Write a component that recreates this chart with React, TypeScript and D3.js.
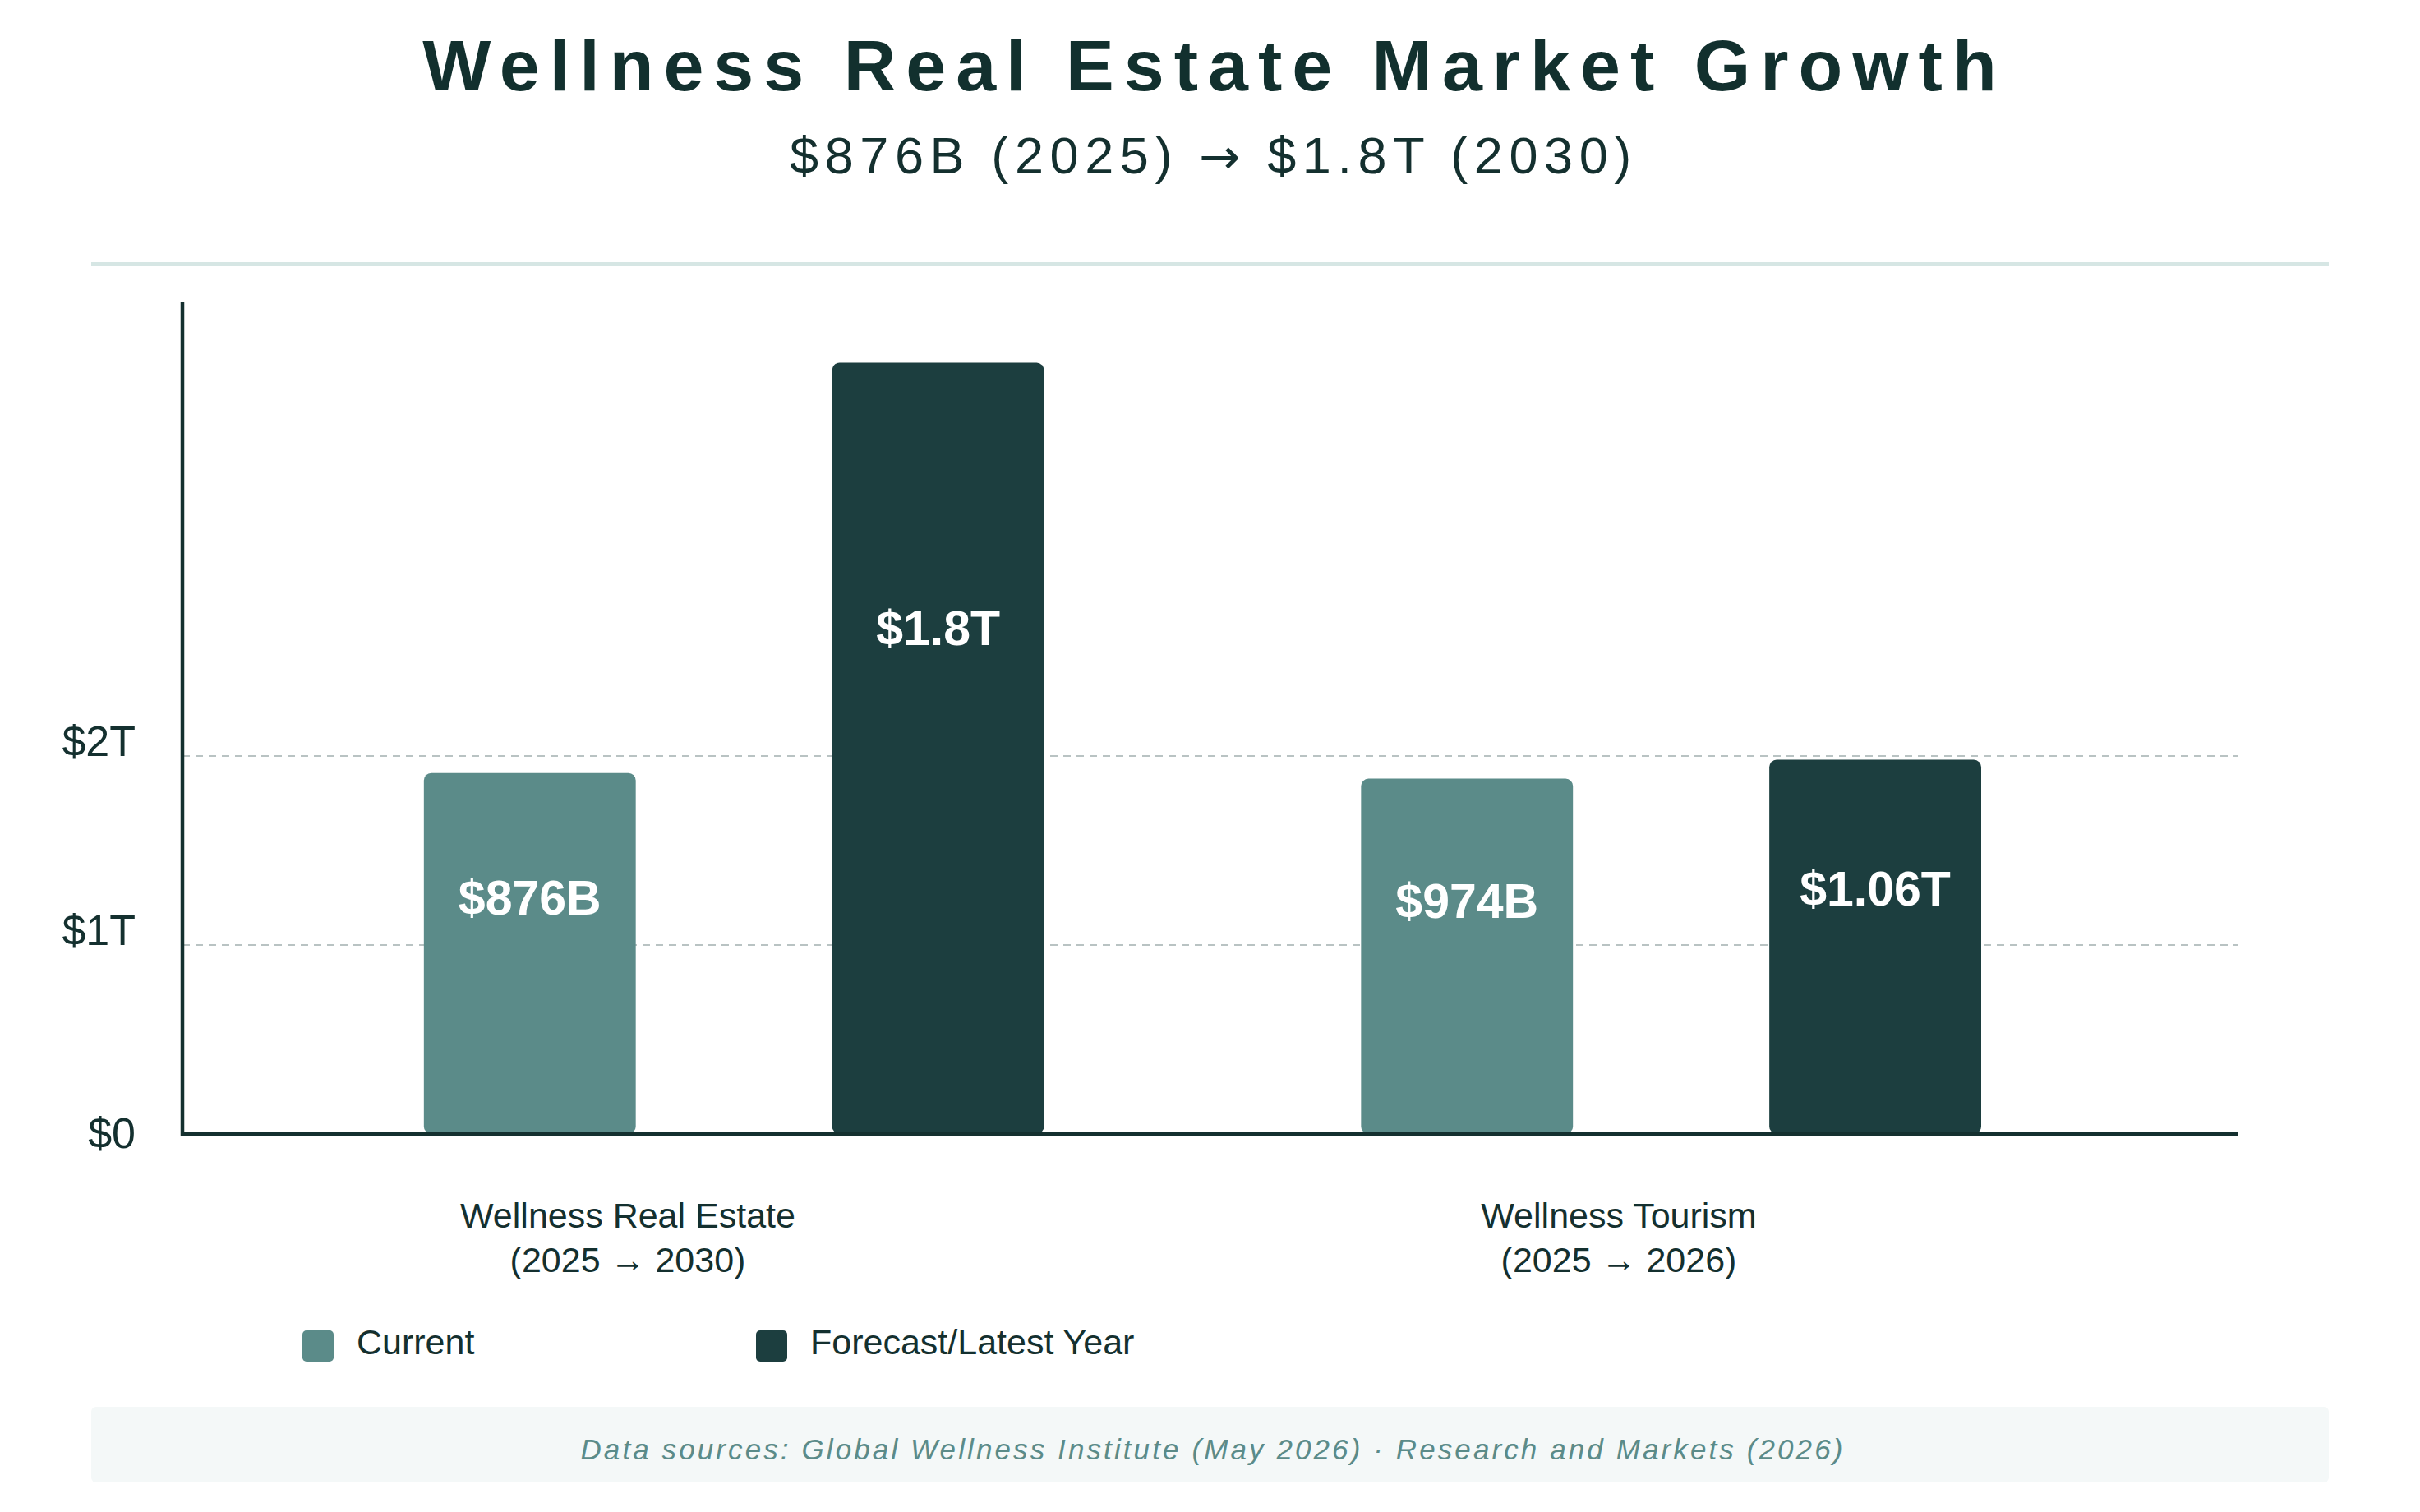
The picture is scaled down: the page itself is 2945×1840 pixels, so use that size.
import React from "react";
import * as d3 from "d3";

const categories = ["Wellness Real Estate", "Wellness Tourism"];
const categorySubLabels = ["(2025 → 2030)", "(2025 → 2026)"];
const seriesNames = ["Current", "Forecast/Latest Year"];
// bar heights as drawn against the axis (trillions)
const currentValues = [1.91, 1.88];
const forecastValues = [4.08, 1.98];
const currentLabels = ["$876B", "$974B"];
const forecastLabels = ["$1.8T", "$1.06T"];
const yTicks = [0, 1, 2];
const yTickLabels = ["$0", "$1T", "$2T"];

const W = 2945;
const H = 1840;
const plotLeft = 222;
const plotRight = 2723;
const plotTop = 368;
const plotBottom = 1380;

const colors = ["#5b8b89", "#1c3e3f"];
const dark = "#14302f";
const font = "'Liberation Sans', Arial, Helvetica, sans-serif";

export default function App() {
  const y = d3.scaleLinear().domain([0, 4.4]).range([plotBottom, plotTop]);
  const x0 = d3
    .scaleBand<string>()
    .domain(categories)
    .range([plotLeft, plotRight])
    .paddingInner(0.3383)
    .paddingOuter(0.2656)
    .align(0.485);
  const x1 = d3
    .scaleBand<string>()
    .domain(seriesNames)
    .range([0, x0.bandwidth()])
    .paddingInner(0.481)
    .paddingOuter(0);
  const labelX = d3
    .scalePoint<string>()
    .domain(categories)
    .range([plotLeft + 542, plotLeft + 1748]);

  const seriesValues = [currentValues, forecastValues];
  const seriesLabels = [currentLabels, forecastLabels];

  const bars: any[] = [];
  categories.forEach((c, ci) => {
    seriesNames.forEach((s, si) => {
      const v = seriesValues[si][ci];
      const top = y(v);
      const h = y(0) - top;
      const bx = (x0(c) as number) + (x1(s) as number);
      bars.push({ c, s, si, v, top, h, bx, label: seriesLabels[si][ci] });
    });
  });

  return (
    <div style={{ position: "absolute", left: 0, top: 0, background: "#fff" }}>
      <svg width={W} height={H} viewBox={`0 0 ${W} ${H}`} style={{ display: "block" }}>
        <rect x={0} y={0} width={W} height={H} fill="#ffffff" />
        <text
          x={1478}
          y={110}
          textAnchor="middle"
          fontFamily={font}
          fontWeight="bold"
          fontSize={88}
          letterSpacing={12}
          fill="#12302e"
        >
          Wellness Real Estate Market Growth
        </text>
        <text
          x={1477}
          y={211}
          textAnchor="middle"
          fontFamily={font}
          fontSize={63}
          letterSpacing={7.6}
          fill={dark}
        >
          <tspan>$876B (2025) </tspan>
          <tspan fontFamily="'DejaVu Sans', sans-serif" fontSize={60}>→</tspan>
          <tspan> $1.8T (2030)</tspan>
        </text>
        <rect x={111} y={319} width={2723} height={5} fill="#d6e6e4" />

        {/* grid */}
        {yTicks
          .filter((t) => t !== 0)
          .map((t) => (
            <line
              key={"g" + t}
              x1={plotLeft}
              x2={plotRight}
              y1={y(t)}
              y2={y(t)}
              stroke="#b9c3c3"
              strokeWidth={2}
              strokeDasharray="9 7"
            />
          ))}

        {/* y tick labels */}
        {yTicks.map((t, i) => (
          <text
            key={"t" + t}
            x={165}
            y={y(t)}
            dy={t === 0 ? "0.33em" : "0"}
            textAnchor="end"
            fontFamily={font}
            fontSize={52}
            fill={dark}
          >
            {yTickLabels[i]}
          </text>
        ))}

        {/* bars */}
        {bars.map((b, i) => (
          <g key={"b" + i}>
            <rect
              x={b.bx}
              y={b.top}
              width={x1.bandwidth()}
              height={b.h}
              rx={9}
              ry={9}
              fill={colors[b.si]}
            />
            <text
              x={b.bx + x1.bandwidth() / 2}
              y={b.top + b.h * 0.343}
              dy="0.36em"
              textAnchor="middle"
              fontFamily={font}
              fontWeight="bold"
              fontSize={59}
              fill="#ffffff"
            >
              {b.label}
            </text>
          </g>
        ))}

        {/* axes */}
        <line x1={plotLeft} x2={plotLeft} y1={plotTop} y2={plotBottom + 2.5} stroke={dark} strokeWidth={4.5} />
        <line x1={plotLeft - 2} x2={plotRight} y1={plotBottom} y2={plotBottom} stroke={dark} strokeWidth={5} />

        {/* category labels */}
        {categories.map((c, i) => (
          <text
            key={"c" + c}
            x={labelX(c)}
            y={1494}
            textAnchor="middle"
            fontFamily={font}
            fontSize={43}
            fill={dark}
          >
            <tspan x={labelX(c)}>{c}</tspan>
            <tspan x={labelX(c)} dy={54}>
              {categorySubLabels[i]}
            </tspan>
          </text>
        ))}

        {/* legend */}
        {seriesNames.map((s, i) => (
          <g key={"l" + s} transform={`translate(${368 + i * 552}, 1619)`}>
            <rect x={0} y={0} width={38} height={38} rx={5} fill={colors[i]} />
            <text x={66} y={29} fontFamily={font} fontSize={43} fill={dark}>
              {s}
            </text>
          </g>
        ))}

        {/* footer */}
        <rect x={111} y={1712} width={2723} height={92} rx={6} fill="#f4f8f8" />
        <text
          x={1476}
          y={1776}
          textAnchor="middle"
          fontFamily={font}
          fontStyle="italic"
          fontSize={35}
          letterSpacing={3.1}
          fill="#5b8b89"
        >
          Data sources: Global Wellness Institute (May 2026) · Research and Markets (2026)
        </text>
      </svg>
    </div>
  );
}
